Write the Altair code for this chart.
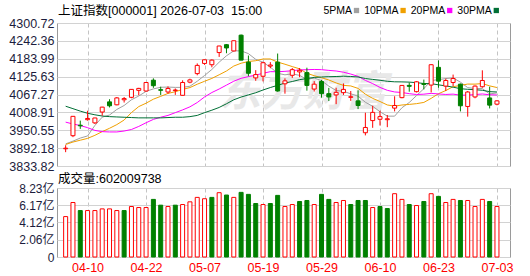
import json
import altair as alt
import pandas as pd

# ---------------- data ----------------
dates = ["04-07","04-08","04-09","04-10","04-13","04-14","04-15","04-16","04-17","04-20",
         "04-21","04-22","04-23","04-24","04-27","04-28","04-29","04-30","05-06","05-07",
         "05-08","05-11","05-12","05-13","05-14","05-15","05-18","05-19","05-20","05-21",
         "05-22","05-25","05-26","05-27","05-28","05-29","06-01","06-02","06-03","06-04",
         "06-05","06-08","06-09","06-10","06-11","06-12","06-15","06-16","06-17","06-18",
         "06-22","06-23","06-24","06-25","06-26","06-29","06-30","07-01","07-02","07-03"]

opens = [3890.0, 3932.7, 3967.0, 3985.0, 3974.6, 4010.0, 4043.2, 4033.6, 4050.0, 4058.0,
         4080.8, 4078.6, 4114.0, 4083.0, 4075.4, 4080.0, 4064.6, 4107.6, 4135.5, 4168.7,
         4164.5, 4204.2, 4229.9, 4209.5, 4261.0, 4173.0, 4121.5, 4126.9, 4160.0, 4173.0,
         4102.2, 4130.0, 4141.0, 4138.7, 4085.0, 4109.7, 4070.0, 4065.8, 4073.3, 4058.0,
         4046.5, 3942.4, 3982.1, 3986.4, 3985.0, 4022.8, 4057.0, 4097.0, 4076.5, 4103.0,
         4098.0, 4155.9, 4094.7, 4106.5, 4101.0, 4028.2, 4059.3, 4092.6, 4056.0, 4035.7]
highs = [3901.6, 3996.5, 3982.0, 4014.3, 3991.0, 4027.0, 4051.8, 4059.0, 4059.0, 4085.0,
         4089.0, 4108.0, 4120.0, 4092.6, 4093.7, 4087.0, 4113.6, 4119.0, 4168.7, 4181.0,
         4182.0, 4226.0, 4232.0, 4243.0, 4263.0, 4194.5, 4146.8, 4174.0, 4173.0, 4201.0,
         4120.0, 4153.7, 4153.7, 4154.8, 4111.0, 4115.0, 4089.0, 4089.4, 4103.3, 4078.6,
         4080.8, 4007.8, 4030.4, 4014.3, 4000.3, 4061.5, 4098.0, 4106.5, 4111.0, 4116.0,
         4166.6, 4178.4, 4119.0, 4132.3, 4103.0, 4078.6, 4097.0, 4146.2, 4092.6, 4048.6]
lows = [3879.0, 3928.0, 3955.0, 3982.0, 3971.0, 3998.0, 4025.0, 4032.0, 4041.0, 4055.0,
        4065.0, 4077.0, 4089.0, 4065.8, 4070.0, 4066.0, 4064.0, 4104.0, 4130.0, 4164.0,
        4156.0, 4190.0, 4202.0, 4208.0, 4179.0, 4126.9, 4112.0, 4110.0, 4153.0, 4076.5,
        4070.0, 4121.5, 4123.7, 4079.8, 4077.0, 4057.0, 4046.0, 4035.7, 4065.8, 4046.5,
        4019.6, 3933.8, 3958.5, 3966.0, 3960.6, 4012.0, 4055.0, 4076.5, 4074.0, 4084.0,
        4074.0, 4089.4, 4078.6, 4094.7, 4012.0, 3994.9, 4055.0, 4089.4, 4021.8, 4032.0]
closes = [3892.0, 3996.0, 3965.0, 3989.0, 3990.6, 4026.0, 4030.4, 4056.1, 4054.0, 4084.0,
          4087.2, 4106.5, 4096.0, 4081.0, 4087.0, 4082.0, 4106.5, 4115.0, 4162.3, 4180.6,
          4179.5, 4225.6, 4219.2, 4242.8, 4179.5, 4136.6, 4132.3, 4171.0, 4163.5, 4078.7,
          4111.9, 4148.4, 4146.2, 4096.9, 4101.0, 4070.0, 4059.3, 4074.4, 4084.0, 4060.0,
          4031.4, 3959.6, 4008.9, 3995.0, 3988.0, 4031.4, 4096.9, 4094.0, 4108.7, 4100.0,
          4164.5, 4110.8, 4113.0, 4119.4, 4030.4, 4075.4, 4094.7, 4113.0, 4032.5, 4046.5]
# volume in 亿
volumes = [4.82, 6.50, 5.54, 5.54, 5.54, 5.74, 5.74, 5.54, 5.54, 6.02,
           5.90, 5.90, 6.87, 6.18, 6.02, 6.18, 6.26, 6.58, 7.11, 6.95,
           7.11, 7.67, 7.39, 7.11, 7.71, 7.47, 6.38, 6.26, 6.38, 7.35,
           6.02, 6.26, 6.62, 6.74, 6.26, 7.47, 6.87, 6.50, 6.74, 6.26,
           6.74, 6.74, 5.90, 6.02, 5.78, 7.55, 6.87, 6.26, 6.14, 6.62,
           7.55, 7.23, 6.50, 6.87, 6.74, 6.74, 6.02, 6.87, 6.62, 6.02]

ma5 = [3906.0, 3915.0, 3925.0, 3932.0, 3966.3, 3993.3, 4000.2, 4018.4, 4031.4, 4050.1,
       4062.3, 4077.6, 4085.5, 4090.9, 4091.5, 4090.5, 4090.5, 4094.3, 4110.6, 4129.3,
       4149.0, 4172.8, 4193.7, 4209.8, 4209.7, 4200.7, 4182.1, 4172.4, 4156.6, 4136.4,
       4131.5, 4134.7, 4129.7, 4116.4, 4120.9, 4112.5, 4094.7, 4080.3, 4077.7, 4069.5,
       4061.8, 4041.9, 4028.8, 4011.0, 3996.6, 3996.6, 4024.0, 4041.1, 4063.8, 4086.2,
       4112.8, 4115.6, 4119.4, 4121.5, 4107.6, 4089.8, 4086.6, 4086.6, 4069.2, 4072.4]
ma10 = [3904.0, 3912.0, 3918.0, 3924.0, 3934.0, 3946.0, 3957.0, 3969.0, 3984.0, 4008.2,
        4027.8, 4038.9, 4052.0, 4061.2, 4070.8, 4076.4, 4084.0, 4089.9, 4100.8, 4110.4,
        4119.8, 4131.7, 4144.0, 4160.2, 4169.4, 4175.0, 4177.6, 4183.2, 4183.3, 4173.1,
        4166.1, 4158.4, 4151.1, 4136.5, 4128.7, 4122.0, 4114.7, 4105.0, 4097.1, 4095.2,
        4087.2, 4068.3, 4054.6, 4044.4, 4033.1, 4029.2, 4033.0, 4034.9, 4037.4, 4041.4,
        4054.7, 4069.8, 4080.2, 4092.7, 4096.9, 4101.3, 4101.1, 4103.0, 4095.4, 4090.0]
ma20 = [3977.0, 3971.0, 3966.0, 3959.0, 3950.0, 3946.0, 3945.0, 3945.0, 3948.0, 3953.0,
        3963.0, 3975.0, 3986.0, 3993.0, 3999.0, 4008.0, 4017.0, 4027.0, 4041.0, 4059.3,
        4073.7, 4085.2, 4097.9, 4110.6, 4120.1, 4125.6, 4130.7, 4136.4, 4141.9, 4141.6,
        4142.9, 4145.0, 4147.5, 4148.3, 4149.0, 4148.4, 4146.0, 4144.0, 4140.1, 4134.0,
        4126.6, 4113.3, 4102.8, 4090.4, 4080.9, 4075.6, 4073.8, 4070.0, 4067.2, 4068.3,
        4070.9, 4069.1, 4067.4, 4068.5, 4065.0, 4065.3, 4067.0, 4069.0, 4066.4, 4065.7]
ma30 = [4029.0, 4021.0, 4013.0, 4006.0, 4001.0, 3997.0, 3995.0, 3994.0, 3993.0, 3992.0,
        3991.0, 3991.0, 3991.0, 3991.0, 3992.0, 3993.0, 3993.0, 3995.0, 3999.0, 4008.0,
        4016.0, 4025.0, 4037.0, 4050.0, 4059.0, 4066.0, 4073.0, 4082.0, 4090.0, 4097.2,
        4104.6, 4109.7, 4115.7, 4119.3, 4123.0, 4124.5, 4125.4, 4126.0, 4127.0, 4126.2,
        4124.4, 4119.5, 4116.6, 4113.7, 4110.4, 4108.7, 4108.4, 4107.7, 4105.9, 4103.2,
        4102.7, 4098.8, 4095.3, 4091.2, 4086.2, 4084.2, 4082.9, 4081.0, 4076.6, 4075.5]

price_ticks = [3833.82, 3892.18, 3950.55, 4008.91, 4067.27, 4125.63, 4183.99, 4242.36, 4300.72]
vol_ticks = [0, 2.06, 4.12, 6.17, 8.23]
tick_idx = [3, 11, 19, 27, 35, 43, 51, 59]
ma_names = ["5PMA", "10PMA", "20PMA", "30PMA"]
ma_colors = ["#a0a0a0", "#f0a000", "#ff00ff", "#006f35"]
title_text = "上证指数[000001]\u00a02026-07-03\u00a0\u00a015:00"
vol_title = "成交量:602009738"
watermark = "东方财富"

# ---------------- styles ----------------
RED = "#ff0000"
GREEN = "#008000"
GRID = "#d2d2d2"
VGRID = "#c4c4c4"
LABEL = "#1c1c3c"
FONT = "Liberation Sans, Noto Sans CJK SC"
W, H1, H2 = 453, 143, 69

n = len(dates)
df = pd.DataFrame({"i": list(range(n)), "o": opens, "h": highs, "l": lows,
                   "c": closes, "v": volumes})
df["up"] = df["c"] >= df["o"]
prev = df["c"].shift(1)
df["vup"] = (df["c"] >= prev) | prev.isna()

ma_df = pd.concat([
    pd.DataFrame({"i": list(range(n)), "val": vals, "name": nm})
    for nm, vals in zip(ma_names, [ma5, ma10, ma20, ma30])
])

xs = alt.Scale(domain=[-0.5, 60.1], nice=False, zero=False)

x_main = alt.X("i:Q", scale=xs, axis=alt.Axis(
    values=tick_idx, labels=False, ticks=False, domain=False, title=None,
    grid=True, gridDash=[4, 3], gridColor=VGRID, gridWidth=1))
y_axis_main = alt.Axis(values=price_ticks, format=".2f", title=None, ticks=False,
                       domain=False, grid=True, gridColor=GRID, labelPadding=3,
                       labelFontSize=12.5, labelColor=LABEL, labelFont=FONT,
                       labelFlush=False, labelOverlap=False)
ys = alt.Scale(domain=[price_ticks[0], price_ticks[-1]], nice=False, zero=False)

wm = alt.Chart(pd.DataFrame({"t": [watermark]})).mark_text(
    align="left", baseline="middle", fontSize=42, fontWeight="bold",
    fontStyle="italic", color="#e8e8e8", font="Noto Sans CJK SC"
).encode(x=alt.value(162), y=alt.value(70), text="t:N")

lines = alt.Chart(ma_df).mark_line(strokeWidth=1, interpolate="linear").encode(
    x=x_main,
    y=alt.Y("val:Q", scale=ys, axis=y_axis_main),
    color=alt.Color("name:N", scale=alt.Scale(domain=ma_names, range=ma_colors), legend=None),
    order=alt.Order("i:Q"),
)

wicks = alt.Chart(df).mark_rule(strokeWidth=1).encode(
    x=x_main,
    y=alt.Y("l:Q", scale=ys, axis=y_axis_main),
    y2="h:Q",
    color=alt.condition("datum.up", alt.value(RED), alt.value(GREEN)),
)

bodies = alt.Chart(df).mark_bar(size=4, strokeWidth=1).encode(
    x=x_main,
    y=alt.Y("o:Q", scale=ys, axis=y_axis_main),
    y2="c:Q",
    fill=alt.condition("datum.up", alt.value("white"), alt.value(GREEN)),
    stroke=alt.condition("datum.up", alt.value(RED), alt.value(GREEN)),
)

one = pd.DataFrame({"t": [title_text]})
title = alt.Chart(one).mark_text(
    align="left", baseline="middle", fontSize=12.5, font=FONT, color="#000000"
).encode(x=alt.value(1), y=alt.value(-12.5), text="t:N")

# invisible corner marker that fixes the origin of the plot area
corner = alt.Chart(pd.DataFrame({"a": [0]})).mark_rule(color="white", strokeWidth=0.5).encode(
    x=alt.value(-56), x2=alt.value(-55), y=alt.value(-21.5))

legend_layers = []
for k, (nm, col) in enumerate(zip(ma_names, ma_colors)):
    sq_x = 299.5 + 46.6 * k
    legend_layers.append(alt.Chart(pd.DataFrame({"t": [nm]})).mark_text(
        align="right", baseline="middle", fontSize=10.5, font=FONT, color="#000000"
    ).encode(x=alt.value(sq_x - 4.5), y=alt.value(-12.5), text="t:N"))
    legend_layers.append(alt.Chart(pd.DataFrame({"t": [nm]})).mark_square(
        size=28, color=col, opacity=1, filled=True
    ).encode(x=alt.value(sq_x), y=alt.value(-12.5)))

main = alt.layer(wm, lines, wicks, bodies, title, corner, *legend_layers).properties(
    width=W, height=H1)

# ---------------- volume ----------------
x_vol = alt.X("i:Q", scale=xs, axis=alt.Axis(
    values=tick_idx, labelExpr=json.dumps(dates) + "[datum.value]",
    labelColor=RED, labelFontSize=12.5, labelFont=FONT, labelPadding=4,
    ticks=False, domain=False, title=None, grid=True, gridDash=[4, 3],
    gridColor=VGRID, labelFlush=False, labelOverlap=False))
y_vol = alt.Y("v:Q", scale=alt.Scale(domain=[0, vol_ticks[-1]], nice=False, zero=True),
              axis=alt.Axis(values=vol_ticks,
                            labelExpr="datum.value == 0 ? '0' : format(datum.value, '.2f') + '亿'",
                            title=None, ticks=False, domain=False, grid=True, gridColor=GRID,
                            labelPadding=3, labelFontSize=12, labelColor=LABEL, labelFont=FONT,
                            labelFlush=False, labelOverlap=False))

vbars = alt.Chart(df).mark_bar(size=4, strokeWidth=1).encode(
    x=x_vol, y=y_vol,
    fill=alt.condition("datum.vup", alt.value("white"), alt.value(GREEN)),
    stroke=alt.condition("datum.vup", alt.value(RED), alt.value(GREEN)),
)
vtitle = alt.Chart(pd.DataFrame({"t": [vol_title]})).mark_text(
    align="left", baseline="middle", fontSize=12.5, font=FONT, color="#000000"
).encode(x=alt.value(1), y=alt.value(-9.5), text="t:N")

vol = alt.layer(vbars, vtitle).properties(width=W, height=H2)

chart = alt.vconcat(main, vol, spacing=22, bounds="flush").properties(
    padding=0, background="white"
).configure_view(stroke="#9a9a9a", strokeWidth=1)

chart.save("out.html", embed_options={"renderer": "svg", "actions": False})
